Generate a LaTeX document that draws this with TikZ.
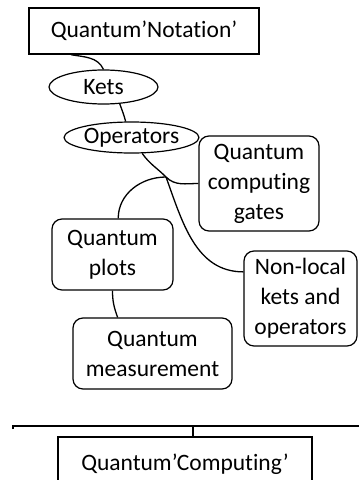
\documentclass[tikz,border=0pt]{standalone}
\usepackage{fontspec}
\setmainfont[Ligatures=NoCommon]{Carlito}
\usetikzlibrary{shapes.geometric}
\begin{document}
\begin{tikzpicture}
      [x=1pt,y=-1pt
      ,every node/.style={font=\fontsize{23.5}{30}\selectfont,align=center,inner sep=0pt}
      ,sq/.style={draw,line width=1.4pt,rectangle}
      ,topic/.style={draw,line width=1.2pt,rectangle,rounded corners=10pt}
      ,oval/.style={draw,line width=1.2pt,ellipse}
      ,lin/.style={line width=1.3pt}
      ]
        \useasboundingbox (0,0) rectangle (359,480);
        \node[sq,minimum width=230pt,minimum height=46pt] (notation) at (144,31) {Quantum'Notation'};
        \node[oval,minimum width=109pt,minimum height=34pt] (kets) at (103.5,87) {Kets};
        \node[oval,minimum width=115pt,minimum height=31pt] (ops) at (131.5,137.5) {Operators};
        \node[topic,minimum width=120pt,minimum height=95pt] (gates) at (259,183.5) {Quantum\\computing\\gates};
        \node[topic,minimum width=121pt,minimum height=71pt] (plots) at (112.5,254.5) {Quantum\\plots};
        \node[topic,minimum width=113pt,minimum height=95pt] (nonlocal) at (300.5,298.5) {Non-local\\kets and\\operators};
        \node[topic,minimum width=159pt,minimum height=71pt] (meas) at (152.5,353.5) {Quantum\\measurement};
        \node[sq,minimum width=254pt,minimum height=54pt] (computing) at (185,464) {Quantum'Computing'};
        \coordinate (hub) at (166,177);
        \coordinate (railL) at (13,426);
        \coordinate (railR) at (359,426);
        % branches
        \draw[lin] (notation.198) to[out=-10,in=115] (kets.north);
        \draw[lin] (kets.-46) to[out=-70,in=105] (ops.110);
        \draw[lin] (ops.-56) to[out=-55,in=135] (hub) to[out=-45,in=180] (gates.west);
        \draw[lin] (hub) to[out=180,in=90] (plots.81);
        \draw[lin] (hub) to[out=-70,in=180] (nonlocal.155);
        \draw[lin] (plots.south) to[out=-90,in=110] (meas.134);
        % rail
        \draw[lin] ([yshift=-3pt]railL) -- (railL) -- (railR);
        \draw[lin] (computing.north -| 193,0) -- (193,426);
      \end{tikzpicture}
\end{document}
